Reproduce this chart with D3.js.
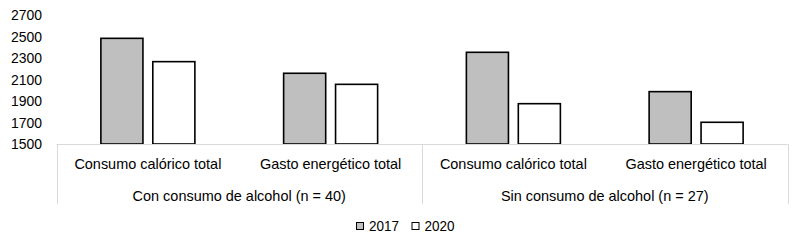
<!DOCTYPE html>
<html><head><meta charset="utf-8">
<script src="https://cdn.jsdelivr.net/npm/d3@7"></script>
<style>body{margin:0;background:#fff}svg{display:block}text{font-family:"Liberation Sans",Arial,sans-serif;fill:#000}</style>
</head><body><svg id="c" width="800" height="243"></svg>
<script>
const groups = ["Con consumo de alcohol (n = 40)", "Sin consumo de alcohol (n = 27)"];
const categories = ["Consumo calórico total", "Gasto energético total"];
const seriesNames = ["2017", "2020"];
const values2017 = [2483, 2158, 2353, 1987];
const values2020 = [2266, 2055, 1875, 1702];
const yTicks = [1500, 1700, 1900, 2100, 2300, 2500, 2700];
const colors = ["#bfbfbf", "#ffffff"];

(function(){
const rows = [];
groups.forEach((g, gi) => categories.forEach((c, ci) => {
  const i = gi * categories.length + ci;
  rows.push({key: g + "|" + c, group: g, cat: c, vals: [values2017[i], values2020[i]]});
}));

const svg = d3.select("#c");
const left = 56.5, right = 787.5, plotTop = 15, base = 144;
const y = d3.scaleLinear().domain([1500, 2700]).range([base, plotTop]);
const x = d3.scaleBand().domain(rows.map(r => r.key)).range([left, right]);
const xs = d3.scaleBand().domain(seriesNames).range([0, 94]).paddingInner(0.19);

function fitTo(sel, target) {
  sel.each(function() {
    const w = this.getComputedTextLength();
    d3.select(this).attr("textLength", target).attr("lengthAdjust", "spacingAndGlyphs");
  });
}
function condense(sel, k) {
  sel.each(function() {
    const w = this.getComputedTextLength();
    d3.select(this).attr("textLength", w * k).attr("lengthAdjust", "spacingAndGlyphs");
  });
}

// y tick labels
svg.append("g").selectAll("text").data(yTicks).join("text")
  .attr("x", 42).attr("y", d => y(d)).attr("dy", "0.35em")
  .attr("text-anchor", "end").style("font-size", "14.5px").text(d => d)
  .call(fitTo, 31);

// bars
const g = svg.append("g").selectAll("g").data(rows).join("g")
  .attr("transform", d => `translate(${x(d.key) + x.bandwidth()/2 - 47},0)`);
g.selectAll("rect").data(d => d.vals.map((v, i) => ({v, s: seriesNames[i], i}))).join("rect")
  .attr("x", d => xs(d.s)).attr("width", xs.bandwidth())
  .attr("y", d => y(d.v)).attr("height", d => base - y(d.v))
  .attr("fill", d => colors[d.i]).attr("stroke", "#000").attr("stroke-width", 1.6);

// axis line and dividers
const axisCol = "#d9d9d9";
svg.append("line").attr("x1", left).attr("x2", right).attr("y1", base + 0.5).attr("y2", base + 0.5)
  .attr("stroke", axisCol).attr("stroke-width", 1);
const divX = [left, x(rows[2].key), right];
svg.append("g").selectAll("line").data(divX).join("line")
  .attr("x1", d => Math.round(d) + 0.5).attr("x2", d => Math.round(d) + 0.5)
  .attr("y1", base).attr("y2", 204).attr("stroke", axisCol).attr("stroke-width", 1);

// category labels
const catText = svg.append("g").selectAll("text").data(rows).join("text")
  .attr("x", d => x(d.key) + x.bandwidth()/2).attr("y", 164).attr("dy", "0.35em")
  .attr("text-anchor", "middle").style("font-size", "14.5px")
  .text(d => d.cat);
const kCat = 147 / catText.node().getComputedTextLength();
catText.call(condense, kCat);

// group labels
svg.append("g").selectAll("text").data(groups).join("text")
  .attr("x", (d, i) => (x(rows[i*2].key) + x(rows[i*2+1].key) + x.bandwidth()) / 2)
  .attr("y", 195.5).attr("dy", "0.35em")
  .attr("text-anchor", "middle").style("font-size", "14.5px")
  .text(d => d).call(condense, kCat);

// legend
const leg = svg.append("g").selectAll("g").data(seriesNames).join("g")
  .attr("transform", (d, i) => `translate(${356 + i * 55.5},0)`);
leg.append("rect").attr("x", 0.5).attr("y", 222.5).attr("width", 7).attr("height", 7)
  .attr("fill", (d, i) => colors[i]).attr("stroke", "#000").attr("stroke-width", 1);
leg.append("text").attr("x", 13).attr("y", 226).attr("dy", "0.35em")
  .style("font-size", "14.5px").text(d => d).call(fitTo, 30);
})();
</script></body></html>
